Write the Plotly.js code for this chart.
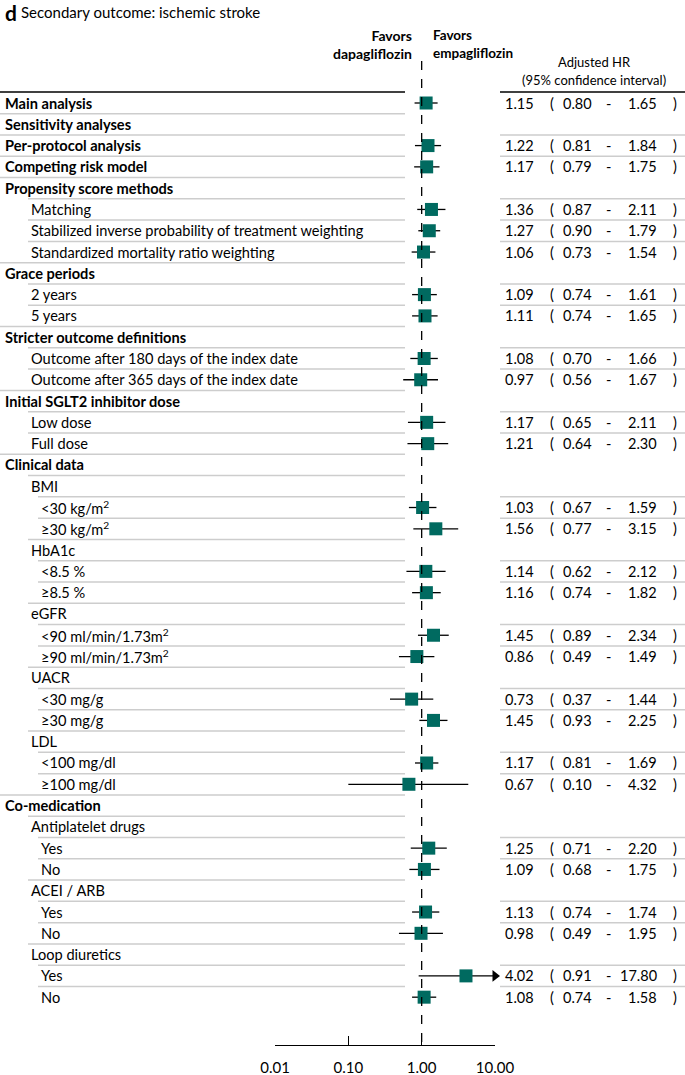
<!DOCTYPE html>
<html>
<head>
<meta charset="utf-8">
<script src="https://cdn.plot.ly/plotly-3.0.1.min.js"></script>
<style>html,body{margin:0;padding:0;background:#fff;}#chart{width:685px;height:1075px;}</style>
</head>
<body>
<div id="chart"></div>
<script>
// ---- data ----
const labels = [
  "Main analysis","Sensitivity analyses","Per-protocol analysis","Competing risk model",
  "Propensity score methods","Matching","Stabilized inverse probability of treatment weighting",
  "Standardized mortality ratio weighting","Grace periods","2 years","5 years",
  "Stricter outcome definitions","Outcome after 180 days of the index date","Outcome after 365 days of the index date",
  "Initial SGLT2 inhibitor dose","Low dose","Full dose","Clinical data","BMI",
  "<30 kg/m<sup>2</sup>","≥30 kg/m<sup>2</sup>","HbA1c","<8.5 %","≥8.5 %","eGFR",
  "<90 ml/min/1.73m<sup>2</sup>","≥90 ml/min/1.73m<sup>2</sup>","UACR","<30 mg/g","≥30 mg/g",
  "LDL","<100 mg/dl","≥100 mg/dl","Co-medication","Antiplatelet drugs","Yes","No",
  "ACEI / ARB","Yes","No","Loop diuretics","Yes","No"
];
const levels = [0,0,0,0,0,1,1,1,0,1,1,0,1,1,0,1,1,0,1,2,2,1,2,2,1,2,2,1,2,2,1,2,2,0,1,2,2,1,2,2,1,2,2];
const hr = [1.15,null,1.22,1.17,null,1.36,1.27,1.06,null,1.09,1.11,null,1.08,0.97,null,1.17,1.21,null,null,
  1.03,1.56,null,1.14,1.16,null,1.45,0.86,null,0.73,1.45,null,1.17,0.67,null,null,1.25,1.09,null,1.13,0.98,null,4.02,1.08];
const lo = [0.80,null,0.81,0.79,null,0.87,0.90,0.73,null,0.74,0.74,null,0.70,0.56,null,0.65,0.64,null,null,
  0.67,0.77,null,0.62,0.74,null,0.89,0.49,null,0.37,0.93,null,0.81,0.10,null,null,0.71,0.68,null,0.74,0.49,null,0.91,0.74];
const hi = [1.65,null,1.84,1.75,null,2.11,1.79,1.54,null,1.61,1.65,null,1.66,1.67,null,2.11,2.30,null,null,
  1.59,3.15,null,2.12,1.82,null,2.34,1.49,null,1.44,2.25,null,1.69,4.32,null,null,2.20,1.75,null,1.74,1.95,null,17.80,1.58];
const tickVals = [0.01,0.1,1,10];
const tickText = ["0.01","0.10","1.00","10.00"];
const titleLetter = "d";
const titleText = "Secondary outcome: ischemic stroke";
const favorLeft = "Favors<br>dapagliflozin";
const favorRight = "Favors<br>empagliflozin";
const colHead1 = "Adjusted HR";
const colHead2 = "(95% confidence interval)";

// ---- layout helpers ----
const W = 685, H = 1075;
const FONT = "Lato, 'Open Sans', sans-serif";
const rowTop = 103, rowStep = 21.29, axisPx = 1045;
const xmax = Math.pow(10, 1);
const px = v => v / W;
const py = v => 1 - v / H;
const textIndent = [4, 30, 40];
const lineIndent = [0, 28, 38];

const n = labels.length;

// CI lines
const lx = [], ly = [];
const arrX = [], arrY = [];
const mX = [], mY = [];
for (let i = 0; i < n; i++) {
  if (hr[i] == null) continue;
  lx.push(lo[i], Math.min(hi[i], xmax), null);
  ly.push(i, i, null);
  mX.push(hr[i]); mY.push(i);
  if (hi[i] > xmax) { arrX.push(xmax); arrY.push(i); }
}

const traces = [
  {x: lx, y: ly, mode: "lines", line: {color: "#000", width: 1.3}, hoverinfo: "skip", showlegend: false},
  {x: arrX, y: arrY, mode: "markers", marker: {symbol: "triangle-right", size: 10, color: "#000"}, cliponaxis: false, showlegend: false},
  {x: mX, y: mY, mode: "markers", marker: {symbol: "square", size: 13, color: "#006a60"}, cliponaxis: false, showlegend: false}
];

const shapes = [];
const ann = [];
// dashed reference line
shapes.push({type: "line", xref: "x", yref: "paper", x0: 1, x1: 1, y0: py(61), y1: py(1043),
  line: {color: "#000", width: 1.3, dash: "dash"}});
// thick top lines
shapes.push({type: "line", xref: "paper", yref: "paper", x0: 0, x1: px(405), y0: py(92), y1: py(92), line: {color: "#000", width: 1.6}});
shapes.push({type: "line", xref: "paper", yref: "paper", x0: px(500), x1: 1, y0: py(92), y1: py(92), line: {color: "#000", width: 1.6}});
// separators
const sepCol = "#cdcdcd";
for (let i = 0; i < n - 1; i++) {
  shapes.push({type: "line", xref: "paper", yref: "y", x0: px(lineIndent[levels[i + 1]]), x1: px(405), y0: i + 0.5, y1: i + 0.5,
    line: {color: sepCol, width: 1.5}});
  if (hr[i + 1] != null) {
    shapes.push({type: "line", xref: "paper", yref: "y", x0: px(500), x1: 1, y0: i + 0.5, y1: i + 0.5,
      line: {color: sepCol, width: 1.5}});
  }
}

// labels
const fs = 14.6;
for (let i = 0; i < n; i++) {
  const bold = levels[i] === 0;
  ann.push({xref: "paper", yref: "y", x: px(textIndent[levels[i]] - 1), y: i, xanchor: "left", yanchor: "middle",
    text: bold ? "<b>" + labels[i] + "</b>" : labels[i], showarrow: false,
    font: {family: FONT, size: fs, color: "#000"}});
  if (hr[i] != null) {
    const f = {family: FONT, size: 14.5, color: "#000"};
    ann.push({xref: "paper", yref: "y", x: px(536), y: i, xanchor: "right", yanchor: "middle", text: hr[i].toFixed(2), showarrow: false, font: f});
    ann.push({xref: "paper", yref: "y", x: px(552), y: i, xanchor: "center", yanchor: "middle", text: "(", showarrow: false, font: f});
    ann.push({xref: "paper", yref: "y", x: px(594), y: i, xanchor: "right", yanchor: "middle", text: lo[i].toFixed(2), showarrow: false, font: f});
    ann.push({xref: "paper", yref: "y", x: px(608), y: i, xanchor: "center", yanchor: "middle", text: "-", showarrow: false, font: f});
    ann.push({xref: "paper", yref: "y", x: px(659), y: i, xanchor: "right", yanchor: "middle", text: hi[i].toFixed(2), showarrow: false, font: f});
    ann.push({xref: "paper", yref: "y", x: px(675), y: i, xanchor: "center", yanchor: "middle", text: ")", showarrow: false, font: f});
  }
}
// header texts
ann.push({xref: "paper", yref: "paper", x: px(3), y: py(12), xanchor: "left", yanchor: "middle", text: "<b>" + titleLetter + "</b>",
  showarrow: false, font: {family: FONT, size: 21, color: "#000"}});
ann.push({xref: "paper", yref: "paper", x: px(19), y: py(12), xanchor: "left", yanchor: "middle", text: titleText,
  showarrow: false, font: {family: FONT, size: 15, color: "#000"}});
ann.push({xref: "paper", yref: "paper", x: px(414), y: py(44), xanchor: "right", yanchor: "middle", align: "right",
  text: "<b>" + favorLeft + "</b>", showarrow: false, font: {family: FONT, size: 14, color: "#000"}});
ann.push({xref: "paper", yref: "paper", x: px(431), y: py(44), xanchor: "left", yanchor: "middle", align: "left",
  text: "<b>" + favorRight + "</b>", showarrow: false, font: {family: FONT, size: 13.5, color: "#000"}});
ann.push({xref: "paper", yref: "paper", x: px(594), y: py(62), xanchor: "center", yanchor: "middle",
  text: colHead1, showarrow: false, font: {family: FONT, size: 13, color: "#000"}});
ann.push({xref: "paper", yref: "paper", x: px(594), y: py(80), xanchor: "center", yanchor: "middle",
  text: colHead2, showarrow: false, font: {family: FONT, size: 13, color: "#000"}});

const yTop = -rowTop / rowStep;
const yBot = (axisPx - rowTop) / rowStep;

const layout = {
  width: W, height: H,
  margin: {l: 0, r: 0, t: 0, b: 0, pad: 0},
  paper_bgcolor: "#fff", plot_bgcolor: "rgba(0,0,0,0)",
  showlegend: false,
  xaxis: {type: "log", domain: [px(275), px(495)], range: [-2, 1], showgrid: false, zeroline: false,
    showline: true, linecolor: "#000", linewidth: 1.3, ticks: "inside", ticklen: 9, tickwidth: 1.3, tickcolor: "#000",
    ticklabelstandoff: 9,
    tickvals: tickVals, ticktext: tickText, tickfont: {family: FONT, size: 15, color: "#000"}, fixedrange: true},
  yaxis: {domain: [(H - axisPx) / H, 1], range: [yBot, yTop], visible: false, showgrid: false, zeroline: false, fixedrange: true},
  shapes: shapes,
  annotations: ann,
  font: {family: FONT}
};

Plotly.newPlot("chart", traces, layout, {staticPlot: true, displayModeBar: false});
</script>
</body>
</html>
